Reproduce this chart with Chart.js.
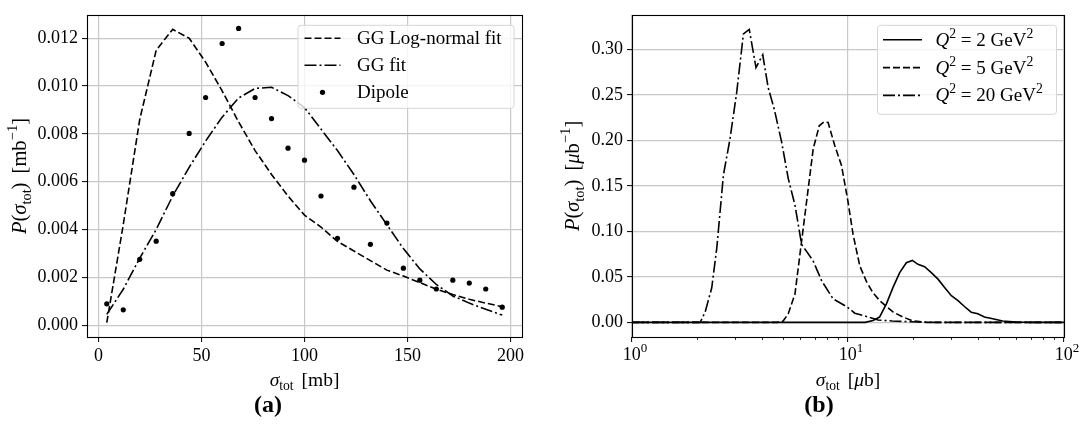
<!DOCTYPE html>
<html><head><meta charset="utf-8">
<script src="https://cdn.jsdelivr.net/npm/chart.js@4.4.1/dist/chart.umd.min.js"></script>
<style>
html,body{margin:0;padding:0;background:#fff;}
#wrap{position:relative;width:1079px;height:429px;overflow:hidden;background:#fff;}
.pane{position:absolute;top:0;height:429px;}
canvas{display:block;}
</style></head><body>
<div id="wrap">
<div class="pane" style="left:0;width:540px"><canvas id="ca" width="540" height="429"></canvas></div>
<div class="pane" style="left:540px;width:539px"><canvas id="cb" width="539" height="429"></canvas></div>
</div>
<script>
// ---------- Panel (a) data ----------
const sigmaMb = [4,12,20,28,36,44,52,60,68,76,84,92,100,108,116,124,132,140,148,156,164,172,180,188,196];
const dipole = [0.00089,0.00064,0.00275,0.00351,0.0055,0.00802,0.00952,0.01178,0.01241,0.00952,0.00864,0.0074,0.0069,0.0054,0.00363,0.00577,0.00338,0.00427,0.00238,0.00188,0.00151,0.00188,0.00176,0.00151,0.00075];
const ggLogNormal = [0.0001,0.0042,0.0086,0.0115,0.01237,0.0120,0.0110,0.0098,0.0085,0.0073,0.0063,0.0054,0.0046,0.0041,0.0035,0.0031,0.0027,0.0023,0.00205,0.00178,0.0015,0.00128,0.00108,0.00092,0.00077];
const ggFit = [0.00045,0.0015,0.0028,0.0040,0.0054,0.0066,0.0077,0.0087,0.0095,0.0099,0.00995,0.0096,0.0091,0.0082,0.0073,0.0063,0.0052,0.0042,0.0032,0.00235,0.0017,0.00122,0.00092,0.00066,0.00042];
const aXTicks = [0,50,100,150,200];
const aYTicks = [0,0.002,0.004,0.006,0.008,0.010,0.012];
const aLegend = ['GG Log-normal fit','GG fit','Dipole'];

// ---------- Panel (b) data ----------
const sigmaQ2 = [1,12.0,13.06,14.0,15.06,16.16,17.35,18.63,19.85,21.08,22.63,24.3,26.1,28.0,30.1,32.3,34.6,37.2,39.9,42.8,46.8,52.0,60.0,70,100];
const pQ2 = [0,0,0.002,0.0058,0.0203,0.0384,0.0547,0.0655,0.0681,0.0638,0.0612,0.0547,0.0475,0.0384,0.0293,0.0239,0.0174,0.0112,0.0094,0.0058,0.004,0.0014,0.0004,0,0];
const sigmaQ5 = [1,4.7,5.01,5.29,5.68,5.99,6.43,6.90,7.36,7.73,8.09,8.69,9.33,10.0,10.56,11.34,12.17,13.0,14.0,16.2,18.0,20.0,23,100];
const pQ5 = [0,0,0.0014,0.0095,0.031,0.0746,0.1326,0.1906,0.216,0.2203,0.2196,0.194,0.1725,0.1326,0.0964,0.062,0.045,0.033,0.024,0.0112,0.0058,0.0015,0,0];
const sigmaQ20 = [1,2.07,2.18,2.34,2.47,2.65,2.84,3.05,3.28,3.49,3.75,4.03,4.27,4.56,4.93,5.29,5.68,6.10,6.43,6.90,7.55,8.54,9.84,10.75,11.74,13.77,16,19.3,25,100];
const pQ20 = [0,0,0.0112,0.038,0.082,0.162,0.201,0.252,0.317,0.322,0.280,0.294,0.258,0.234,0.198,0.158,0.129,0.0855,0.078,0.0674,0.0457,0.0257,0.0174,0.0101,0.0076,0.0025,0.0015,0.0007,0,0];
const bXMajor = [1,10,100];
const bXMinor = [2,3,4,5,6,7,8,9,20,30,40,50,60,70,80,90];
const bYTicks = [0,0.05,0.10,0.15,0.20,0.25,0.30];
const bLegendQ2 = ['2','5','20'];

// ---------- helpers ----------
const FAM = '"Liberation Serif", "DejaVu Serif", serif';
const FS = 18;
const TFS = 19.5;
const GRID = '#c8c8c8';
const DASH = [7,3];
const DASHDOT = [12,3,2,3];
const LW = 1.6;

function segFont(s, size){
  const sz = s.sub ? size*0.7 : (s.sup ? size*0.72 : size);
  return (s.i?'italic ':'') + (s.b?'bold ':'') + sz.toFixed(1) + 'px ' + FAM;
}
function richWidth(ctx, segs, size){
  let w = 0;
  for (const s of segs){ ctx.font = segFont(s,size); w += ctx.measureText(s.t).width + (s.gap||0); }
  return w;
}
function drawRich(ctx, segs, x, y, size, align){
  const w = richWidth(ctx, segs, size);
  let cx = align === 'center' ? x - w/2 : x;
  ctx.textBaseline = 'alphabetic'; ctx.textAlign = 'left'; ctx.fillStyle = '#000';
  for (const s of segs){
    ctx.font = segFont(s,size);
    const dy = s.sub ? size*0.22 : (s.sup ? -size*0.42 : 0);
    ctx.fillText(s.t, cx, y+dy);
    cx += ctx.measureText(s.t).width + (s.gap||0);
  }
}
function roundRect(ctx,x,y,w,h,r){
  ctx.beginPath();
  ctx.moveTo(x+r,y); ctx.lineTo(x+w-r,y); ctx.quadraticCurveTo(x+w,y,x+w,y+r);
  ctx.lineTo(x+w,y+h-r); ctx.quadraticCurveTo(x+w,y+h,x+w-r,y+h);
  ctx.lineTo(x+r,y+h); ctx.quadraticCurveTo(x,y+h,x,y+h-r);
  ctx.lineTo(x,y+r); ctx.quadraticCurveTo(x,y,x+r,y); ctx.closePath();
}
function drawHandle(ctx, x0, x1, y, kind){
  ctx.save();
  ctx.strokeStyle = '#000'; ctx.fillStyle = '#000'; ctx.lineWidth = LW;
  if (kind === 'dot'){
    ctx.beginPath(); ctx.arc((x0+x1)/2, y, 2.6, 0, Math.PI*2); ctx.fill();
  } else {
    ctx.setLineDash(kind === 'dash' ? DASH : kind === 'dashdot' ? DASHDOT : []);
    ctx.beginPath(); ctx.moveTo(x0,y); ctx.lineTo(x1,y); ctx.stroke();
  }
  ctx.restore();
}
function drawFrame(ctx, a){
  ctx.save(); ctx.strokeStyle = '#000'; ctx.lineWidth = 1.1; ctx.setLineDash([]);
  ctx.strokeRect(Math.round(a.left)+0.5, Math.round(a.top)+0.5, Math.round(a.right-a.left), Math.round(a.bottom-a.top));
  ctx.restore();
}
function drawYTitle(ctx, segs, x, cy, size){
  ctx.save(); ctx.translate(x, cy); ctx.rotate(-Math.PI/2);
  drawRich(ctx, segs, 0, 6, size, 'center'); ctx.restore();
}
function caption(ctx, t, x, y){
  ctx.save(); ctx.font = 'bold 24px ' + FAM; ctx.fillStyle = '#000';
  ctx.textAlign = 'center'; ctx.textBaseline = 'middle'; ctx.fillText(t, x, y); ctx.restore();
}
function fitTicks(list){ return (scale) => { scale.ticks = list.map(v => ({value:v})); }; }

const tickFont = {family: FAM, size: FS};

// ---------- Panel (a) ----------
const decoA = {
  id: 'decoA',
  afterDraw(chart){
    const ctx = chart.ctx, a = chart.chartArea;
    drawFrame(ctx, a);
    drawRich(ctx, [{t:'σ',i:true},{t:'tot',sub:true,gap:3},{t:' [mb]'}], (a.left+a.right)/2, 386, TFS, 'center');
    drawYTitle(ctx, [{t:'P',i:true},{t:'('},{t:'σ',i:true},{t:'tot',sub:true},{t:')',gap:4},{t:' [mb'},{t:'−1',sup:true},{t:']'}], 20, (a.top+a.bottom)/2, 20.5);
    // legend
    const w = 216, h = 83, x0 = a.right - 8.5 - w, y0 = a.top + 10;
    ctx.save(); roundRect(ctx, x0+0.5, y0+0.5, w, h, 3);
    ctx.fillStyle = 'rgba(255,255,255,0.8)'; ctx.fill();
    ctx.strokeStyle = '#d6d6d6'; ctx.lineWidth = 1; ctx.stroke(); ctx.restore();
    const kinds = ['dash','dashdot','dot'];
    for (let k=0;k<3;k++){
      const ry = y0 + 13.5 + k*27;
      drawHandle(ctx, x0+7, x0+43, ry, kinds[k]);
      drawRich(ctx, [{t:aLegend[k]}], x0+59.5, ry+6, 19, 'left');
    }
    caption(ctx, '(a)', 268, 406);
  }
};

new Chart(document.getElementById('ca'), {
  type: 'line',
  data: {
    datasets: [
      {label: aLegend[0], data: sigmaMb.map((x,i)=>({x, y: ggLogNormal[i]})), borderColor:'#000', borderWidth:LW, borderDash:DASH, pointRadius:0, fill:false, tension:0},
      {label: aLegend[1], data: sigmaMb.map((x,i)=>({x, y: ggFit[i]})), borderColor:'#000', borderWidth:LW, borderDash:DASHDOT, pointRadius:0, fill:false, tension:0},
      {label: aLegend[2], data: sigmaMb.map((x,i)=>({x, y: dipole[i]})), showLine:false, borderColor:'#000', backgroundColor:'#000', pointRadius:2.6, pointBorderWidth:0, pointBackgroundColor:'#000'}
    ]
  },
  options: {
    responsive:false, animation:false, devicePixelRatio:1,
    layout: {padding: {left:0, right:18, top:10, bottom:0}},
    plugins: {legend:{display:false}, tooltip:{enabled:false}},
    scales: {
      x: {type:'linear', min:-5.6, max:205.6, afterBuildTicks: fitTicks(aXTicks),
          afterFit: s => { s.height = 92; },
          border:{display:false},
          grid:{color:GRID, lineWidth:1.2, tickLength:5, tickColor:'#000', tickWidth:1},
          ticks:{font:tickFont, color:'#000', padding:3, maxRotation:0, autoSkip:false, callback: v => String(v)}},
      y: {type:'linear', min:-0.000497, max:0.01298, afterBuildTicks: fitTicks(aYTicks),
          afterFit: s => { s.width = 87; },
          border:{display:false},
          grid:{color:GRID, lineWidth:1.2, tickLength:5, tickColor:'#000', tickWidth:1},
          ticks:{font:tickFont, color:'#000', padding:4, autoSkip:false, callback: v => v.toFixed(3)}}
    }
  },
  plugins: [decoA]
});

// ---------- Panel (b) ----------
const decoB = {
  id: 'decoB',
  afterDraw(chart){
    const ctx = chart.ctx, a = chart.chartArea, xs = chart.scales.x;
    drawFrame(ctx, a);
    // minor ticks
    ctx.save(); ctx.strokeStyle = '#000'; ctx.lineWidth = 0.8;
    for (const v of bXMinor){
      const px = Math.round(xs.getPixelForValue(v)) + 0.5;
      ctx.beginPath(); ctx.moveTo(px, a.bottom); ctx.lineTo(px, a.bottom+3); ctx.stroke();
    }
    ctx.restore();
    // major labels 10^n
    for (const v of bXMajor){
      const px = xs.getPixelForValue(v);
      drawRich(ctx, [{t:'10'},{t:String(Math.round(Math.log10(v))),sup:true}], px+3, 360, FS, 'center');
    }
    drawRich(ctx, [{t:'σ',i:true},{t:'tot',sub:true,gap:3},{t:' ['},{t:'μ',i:true},{t:'b]'}], (a.left+a.right)/2, 386, TFS, 'center');
    drawYTitle(ctx, [{t:'P',i:true},{t:'('},{t:'σ',i:true},{t:'tot',sub:true},{t:')',gap:4},{t:' ['},{t:'μ',i:true},{t:'b'},{t:'−1',sup:true},{t:']'}], 33, (a.top+a.bottom)/2, 20.5);
    // legend
    const w = 179, h = 89, x0 = a.right - 8 - w, y0 = a.top + 10;
    ctx.save(); roundRect(ctx, x0+0.5, y0+0.5, w, h, 3);
    ctx.fillStyle = 'rgba(255,255,255,0.8)'; ctx.fill();
    ctx.strokeStyle = '#d6d6d6'; ctx.lineWidth = 1; ctx.stroke(); ctx.restore();
    const kinds = ['solid','dash','dashdot'];
    for (let k=0;k<3;k++){
      const ry = y0 + 15 + k*27.8;
      drawHandle(ctx, x0+6, x0+45, ry, kinds[k]);
      drawRich(ctx, [{t:'Q',i:true},{t:'2',sup:true},{t:' = '+bLegendQ2[k]+' GeV'},{t:'2',sup:true}], x0+58.5, ry+6, 19, 'left');
    }
    caption(ctx, '(b)', 279, 406);
  }
};

const isMajor = v => bXMajor.includes(v);
new Chart(document.getElementById('cb'), {
  type: 'line',
  data: {
    datasets: [
      {label:'Q2=2', data: sigmaQ2.map((x,i)=>({x, y:pQ2[i]})), borderColor:'#000', borderWidth:LW, pointRadius:0, fill:false, tension:0},
      {label:'Q2=5', data: sigmaQ5.map((x,i)=>({x, y:pQ5[i]})), borderColor:'#000', borderWidth:LW, borderDash:DASH, pointRadius:0, fill:false, tension:0},
      {label:'Q2=20', data: sigmaQ20.map((x,i)=>({x, y:pQ20[i]})), borderColor:'#000', borderWidth:LW, borderDash:DASHDOT, pointRadius:0, fill:false, tension:0}
    ]
  },
  options: {
    responsive:false, animation:false, devicePixelRatio:1,
    layout: {padding: {left:0, right:15, top:10, bottom:0}},
    plugins: {legend:{display:false}, tooltip:{enabled:false}},
    scales: {
      x: {type:'logarithmic', min:1, max:100,
          afterBuildTicks: s => { s.ticks = bXMajor.concat(bXMinor).sort((p,q)=>p-q).map(v=>({value:v})); },
          afterFit: s => { s.height = 92; },
          border:{display:false},
          grid:{color: c => (c.tick && isMajor(c.tick.value)) ? GRID : 'rgba(0,0,0,0)', lineWidth:1.2, tickLength:5,
                tickColor: c => (c.tick && isMajor(c.tick.value)) ? '#000' : 'rgba(0,0,0,0)', tickWidth:1},
          ticks:{display:false, autoSkip:false}},
      y: {type:'linear', min:-0.0161, max:0.338, afterBuildTicks: fitTicks(bYTicks),
          afterFit: s => { s.width = 92; },
          border:{display:false},
          grid:{color:GRID, lineWidth:1.2, tickLength:5, tickColor:'#000', tickWidth:1},
          ticks:{font:tickFont, color:'#000', padding:4, autoSkip:false, callback: v => v.toFixed(2)}}
    }
  },
  plugins: [decoB]
});
</script>
</body></html>
